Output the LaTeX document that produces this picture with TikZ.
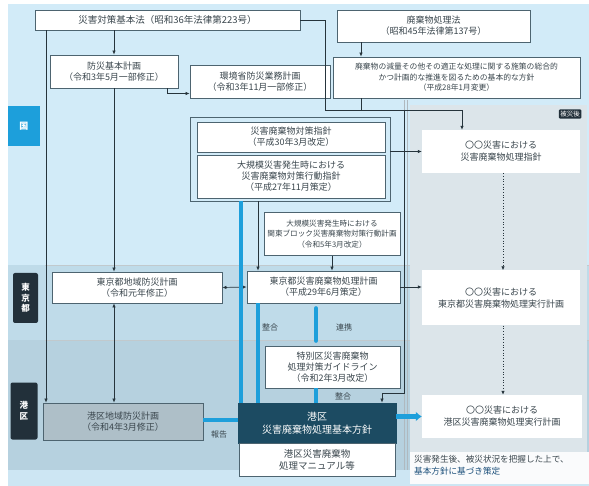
\documentclass[tikz,border=0pt]{standalone}
\usepackage{fontspec}
\setmainfont{Noto Sans CJK JP}
\usetikzlibrary{arrows.meta}

\definecolor{kuniBg}{HTML}{D2EBF8}
\definecolor{toBg}{HTML}{BFDBE9}
\definecolor{kuBg}{HTML}{B6D1DF}
\definecolor{panelBg}{HTML}{DCE5EA}
\definecolor{boxLine}{HTML}{4D6470}
\definecolor{lineDark}{HTML}{26343C}
\definecolor{txtGrey}{HTML}{3A464D}
\definecolor{kuBlue}{HTML}{1D9FDB}
\definecolor{hoshinDark}{HTML}{1C4B62}
\definecolor{labDark}{HTML}{22303A}
\definecolor{planGrey}{HTML}{AEBFC8}
\definecolor{noteBlue}{HTML}{1B4F7A}

\begin{document}
\begin{tikzpicture}[x=1pt,y=-1pt,>=latex,
  box/.style={draw=boxLine,line width=.8pt,fill=white,align=center,text=txtGrey,
    font=\fontsize{9}{11}\selectfont,inner sep=1pt},
  soft/.style={fill=white,align=center,text=txtGrey,font=\fontsize{9}{12}\selectfont,inner sep=1pt},
  conn/.style={draw=lineDark,line width=.7pt,-{Latex[length=4pt,width=3.5pt]}},
  both/.style={draw=lineDark,line width=.7pt,{Latex[length=4pt,width=3.5pt]}-{Latex[length=4pt,width=3.5pt]}},
  bluebar/.style={draw=kuBlue,line width=4.5pt},
  areaLab/.style={fill=labDark,text=white,rounded corners=2pt,align=center,
    font=\fontsize{8.5}{10.5}\selectfont\bfseries,inner sep=1pt},
  smallLab/.style={text=txtGrey,font=\fontsize{8}{8}\selectfont,inner sep=1pt}]
\useasboundingbox (0,0) rectangle (589,486);

% bands
\fill[white] (0,0) rectangle (589,486);
\fill[kuniBg] (8,4) rectangle (589,265);
\fill[toBg] (8,265) rectangle (589,340);
\fill[kuBg] (8,340) rectangle (589,470);
\fill[kuniBg!80!kuBg] (8,470) rectangle (589,486);
\draw[boxLine!35,line width=.6pt] (45,265) -- (589,265) (45,340) -- (589,340);
\fill[panelBg] (410,105) rectangle (587,452);
\fill[white!85!panelBg] (410,452) rectangle (589,484);
\draw[boxLine!45,line width=.6pt] (404,100) -- (404,470) (407,100) -- (407,470);

% labels on the left
\node[fill=kuBlue,text=white,minimum width=32pt,minimum height=40pt,
  font=\fontsize{9}{10}\selectfont\bfseries] (kuni) at (24,126) {国};
\node[areaLab,minimum width=25pt,minimum height=50pt] (tokyo) at (25.5,298) {東\\京\\都};
\node[areaLab,minimum width=27pt,minimum height=57pt] (ku) at (24,411) {港\\区};
\node[fill=labDark,text=white,rounded corners=1pt,inner sep=1.5pt,
  font=\fontsize{6.5}{7}\selectfont] (hisaigo) at (570,114) {被災後};

% national level
\node[box,minimum width=265pt,minimum height=20pt,font=\fontsize{9.5}{11}\selectfont] (A) at (167.5,20)
  {災害対策基本法（昭和36年法律第223号）};
\node[box,minimum width=128pt,minimum height=33pt] (B) at (114,71.5)
  {防災基本計画\\（令和3年5月一部修正）};
\node[box,minimum width=140pt,minimum height=33pt] (C) at (260,81.5)
  {環境省防災業務計画\\（令和3年11月一部修正）};
\node[box,minimum width=193pt,minimum height=32pt] (D) at (433.5,26)
  {廃棄物処理法\\（昭和45年法律第137号）};
\node[box,minimum width=247pt,minimum height=41pt,font=\fontsize{7.8}{10.5}\selectfont] (E) at (456.5,77.5)
  {廃棄物の減量その他その適正な処理に関する施策の総合的\\かつ計画的な推進を図るための基本的な方針\\（平成28年1月変更）};
\node[box,minimum width=200pt,minimum height=84pt,fill=none] (FG) at (290,159) {};
\node[box,minimum width=188pt,minimum height=30pt] (F) at (291,137)
  {災害廃棄物対策指針\\（平成30年3月改定）};
\node[box,minimum width=188pt,minimum height=43pt] (G) at (291,176.5)
  {大規模災害発生時における\\災害廃棄物対策行動指針\\（平成27年11月策定）};
\node[box,minimum width=136pt,minimum height=43pt,font=\fontsize{7.6}{10.5}\selectfont] (H) at (332,234)
  {大規模災害発生時における\\関東ブロック災害廃棄物対策行動計画\\（令和5年3月改定）};

% Tokyo level
\node[box,minimum width=170pt,minimum height=31pt] (I) at (137,287.5)
  {東京都地域防災計画\\（令和元年修正）};
\node[box,minimum width=153pt,minimum height=32pt] (J) at (323.5,287)
  {東京都災害廃棄物処理計画\\（平成29年6月策定）};
\node[box,minimum width=135pt,minimum height=42pt] (K) at (332.5,367)
  {特別区災害廃棄物\\処理対策ガイドライン\\（令和2年3月改定）};

% ward level
\node[box,fill=planGrey,minimum width=160pt,minimum height=37pt] (L) at (123,421.5)
  {港区地域防災計画\\（令和4年3月修正）};
\node[box,fill=hoshinDark,draw=hoshinDark,text=white,minimum width=158pt,minimum height=40pt,
  font=\fontsize{10}{12.5}\selectfont] (M) at (317,423)
  {港区\\災害廃棄物処理基本方針};
\node[box,minimum width=156pt,minimum height=33pt,anchor=north,font=\fontsize{9.5}{12}\selectfont] (N) at (M.south)
  {港区災害廃棄物\\処理マニュアル等};

% after the disaster
\node[soft,minimum width=158pt,minimum height=43pt] (P1) at (501,151.5)
  {〇〇災害における\\災害廃棄物処理指針};
\node[soft,minimum width=158pt,minimum height=55pt] (P2) at (501,298)
  {〇〇災害における\\東京都災害廃棄物処理実行計画};
\node[soft,minimum width=160pt,minimum height=43pt] (P3) at (502,416.5)
  {〇〇災害における\\港区災害廃棄物処理実行計画};
\node[anchor=north west,align=left,inner sep=0pt,font=\fontsize{8.6}{12}\selectfont,text=txtGrey]
  (note) at (414,455) {災害発生後、被災状況を把握した上で、\\\textcolor{noteBlue}{基本方針に基づき策定}};

% thin connectors
\coordinate (jct) at (325,110);
\coordinate (xA) at (46,0);
\coordinate (xF) at (258,0);
\coordinate (xD) at (361,0);
\coordinate (xR) at (404,393);
\draw[conn] (A.south -| B.north) -- (B.north);
\draw[conn] (A.south -| xA) -- (L.north -| xA);
\draw[conn] (B.south) -- (I.north -| B.south);
\draw[both] (I.south -| B.south) -- (L.north -| B.south);
\draw[conn] ([xshift=-11pt]B.south east) |- ([yshift=-12pt]C.west);
\draw[conn] (D.south -| xD) -- (E.north -| xD);
\draw[draw=lineDark,line width=.7pt] (E.south -| xD) -- (jct -| xD);
\draw[conn] (A.east) -| (jct) -| (P1.north -| 462,0);
\draw[conn] (jct -| xR) -- (xR) -| (M.north -| 382,0);
\draw[conn] (FG.east |- P1.west) -- (P1.west);
\draw[conn] (FG.south -| xF) -- (J.north -| xF);
\draw[conn] (H.south) -- (H.south |- J.north);
\draw[both] (I.east) -- (J.west);
\draw[conn] (J.east) -- (J.east -| P2.west);
\draw[conn,dotted,line width=1pt] (P1.south -| 503,0) -- (P2.north -| 503,0);
\draw[conn,dotted,line width=1pt] (P2.south -| 503,0) -- (P3.north -| 503,0);

% blue links
\draw[bluebar] (FG.south -| 241,0) -- (M.north -| 241,0);
\draw[bluebar] (J.south -| xF) -- (M.north -| xF);
\draw[bluebar,line cap=round] ([yshift=-5pt]J.south -| 316,0) -- ([yshift=5pt]K.north -| 316,0);
\draw[bluebar] (K.south -| 316,0) -- (M.north -| 316,0);
\draw[draw=kuBlue,line width=4.5pt,-{Latex[length=6pt,width=10pt]}] (M.east |- P3.west) -- (P3.west);
\draw[bluebar] (L.east |- 0,420) -- (M.west |- 0,420);
\node[smallLab] (seigo1) at (270,327) {整合};
\node[smallLab] (renkei) at (344,327) {連携};
\node[smallLab] (seigo2) at (343,396) {整合};
\node[smallLab] (hokoku) at (219,434) {報告};
\end{tikzpicture}
\end{document}
